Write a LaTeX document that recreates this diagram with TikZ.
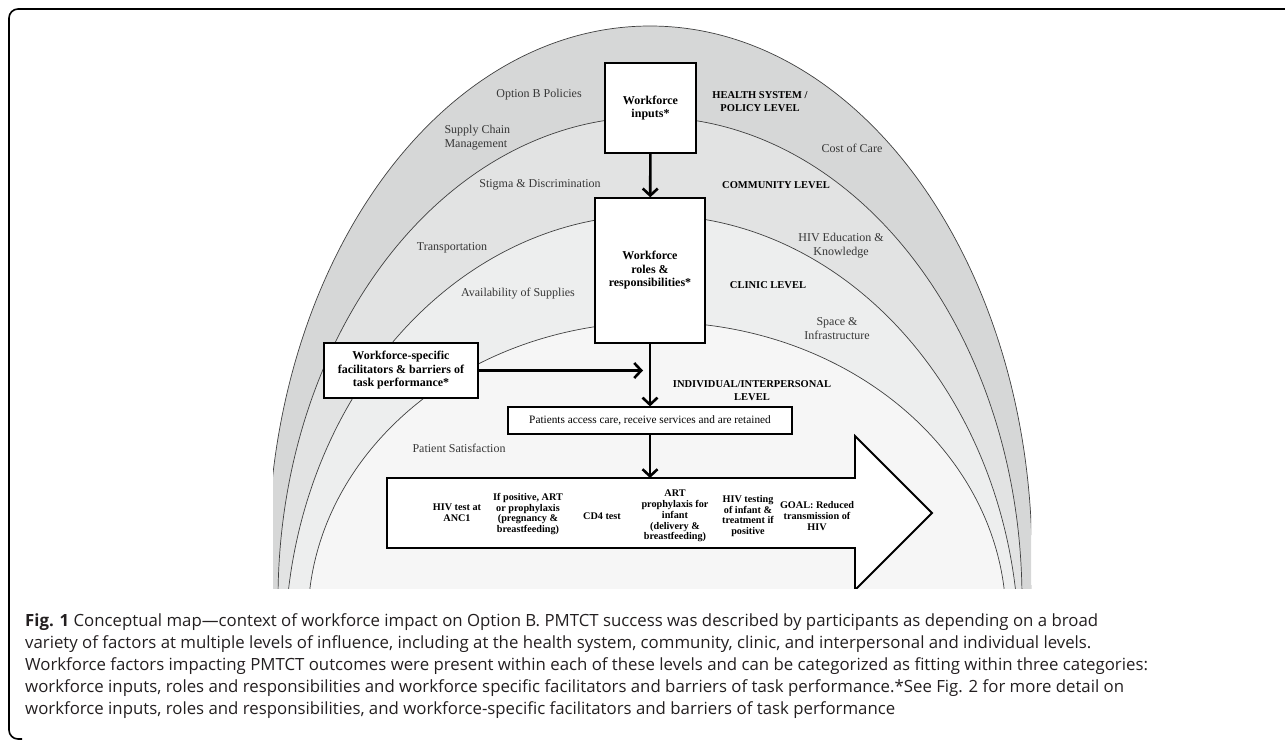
\documentclass[tikz,border=0pt]{standalone}
\usepackage{fontspec}
\setmainfont{Liberation Serif}
\newfontfamily\capfont{Open Sans}
\usetikzlibrary{arrows.meta}
\definecolor{policyband}{RGB}{214,215,215}
\definecolor{communityband}{RGB}{226,227,227}
\definecolor{clinicband}{RGB}{237,238,238}
\definecolor{personband}{RGB}{246,246,246}
\definecolor{labelgray}{RGB}{55,55,55}
\definecolor{capgray}{RGB}{35,31,32}

\begin{document}
\begin{tikzpicture}[x=1pt, y=-1pt,
    >={Straight Barb[length=7pt,width=15pt]},
    wbox/.style={draw=black, fill=white, line width=1.4pt, align=center, font=\bfseries\fontsize{12}{13.5}\selectfont},
    factor/.style={text=labelgray, align=center, font=\fontsize{12}{14}\selectfont},
    level/.style={align=center, font=\bfseries\fontsize{10.5}{13}\selectfont},
    stepnote/.style={align=center, inner sep=1pt, font=\bfseries\fontsize{10.2}{10.8}\selectfont},
    flow/.style={->, line width=2.6pt},
    ring/.style={draw=black!75, line width=0.7pt},
    capline/.style={anchor=base west, inner sep=0pt, text=capgray, font=\capfont\fontsize{16.8}{22}\selectfont}]
    \useasboundingbox (0,0) rectangle (1285,739);

    % frame of the figure
    \draw[line width=1.6pt, rounded corners=9pt] (1300,9) -- (9,9) -- (9,739) -- (22,739);

    % levels of influence
    \begin{scope}
        \clip (273,0) rectangle (1031,588);
        \path[ring, fill=policyband] (650,560) ellipse [x radius=382pt, y radius=534pt];
        \path[ring, fill=communityband] (650,600) ellipse [x radius=372pt, y radius=483pt];
        \path[ring, fill=clinicband] (652,650) ellipse [x radius=367pt, y radius=435pt];
        \path[ring, fill=personband] (657,620) ellipse [x radius=349pt, y radius=298pt];

        % care pathway
        \draw[line width=1.8pt, fill=white] (387,478) -- (855,478) -- (855,436) -- (932,513)
            -- (855,590) -- (855,548) -- (387,548) -- cycle;
    \end{scope}
    \coordinate (pathtop) at (650,478);

    \node[factor] (optionb) at (539,95) {Option B Policies};
    \node[factor, align=left, anchor=west] (supply) at (441,138) {Supply Chain\\Management};
    \node[factor] (stigma) at (540,185) {Stigma \& Discrimination};
    \node[factor] (cost) at (852,148) {Cost of Care};
    \node[factor] (transport) at (452,248) {Transportation};
    \node[factor] (supplies) at (518,294) {Availability of Supplies};
    \node[factor] (education) at (841,246) {HIV Education \&\\Knowledge};
    \node[factor] (space) at (837,328.5) {Space \&\\Infrastructure};
    \node[factor] (satisfaction) at (459,448) {Patient Satisfaction};

    \node[level] (policy) at (760,101.5) {HEALTH SYSTEM /\\POLICY LEVEL};
    \node[level] (community) at (776,185) {COMMUNITY LEVEL};
    \node[level] (clinic) at (768,285) {CLINIC LEVEL};
    \node[level] (individual) at (752,391) {INDIVIDUAL/INTERPERSONAL\\LEVEL};

    \node[wbox, minimum width=91pt, minimum height=90pt] (inputs) at (650.5,108) {Workforce\\inputs*};
    \node[wbox, minimum width=110pt, minimum height=145pt] (roles) at (650,270.5) {Workforce\\roles \&\\responsibilities*};
    \node[wbox, minimum width=154pt, minimum height=55pt] (barriers) at (401,370.5) {Workforce-specific\\facilitators \& barriers of\\task performance*};
    \node[draw, fill=white, line width=1.2pt, minimum width=284pt, minimum height=27pt,
        font=\fontsize{11.3}{12}\selectfont] (patients) at (650,420.5) {Patients access care, receive services and are retained};
    \coordinate (meet) at (643,370.5);

    \draw[flow] (inputs) -- (roles);
    \draw[flow] (roles) -- (patients);
    \draw[flow] (barriers) -- (meet);
    \draw[flow] (patients) -- (pathtop);

    \node[stepnote] (anc) at (457,513) {HIV test at\\ANC1};
    \node[stepnote] (art) at (528,514) {If positive, ART\\or prophylaxis\\(pregnancy \&\\breastfeeding)};
    \node[stepnote] (cdfour) at (602,516) {CD4 test};
    \node[stepnote] (infant) at (675,516) {ART\\prophylaxis for\\infant\\(delivery \&\\breastfeeding)};
    \node[stepnote] (testing) at (748,516) {HIV testing\\of infant \&\\treatment if\\positive};
    \node[stepnote] (goal) at (817,516) {GOAL: Reduced\\transmission of\\HIV};

    % caption
    \node[capline] (capa) at (25,626) {\textbf{Fig. 1} Conceptual map—context of workforce impact on Option B. PMTCT success was described by participants as depending on a broad};
    \node[capline] (capb) at (25,648) {variety of factors at multiple levels of influence, including at the health system, community, clinic, and interpersonal and individual levels.};
    \node[capline] (capc) at (25,670) {Workforce factors impacting PMTCT outcomes were present within each of these levels and can be categorized as fitting within three categories:};
    \node[capline] (capd) at (25,692) {workforce inputs, roles and responsibilities and workforce specific facilitators and barriers of task performance.*See Fig. 2 for more detail on};
    \node[capline] (cape) at (25,714) {workforce inputs, roles and responsibilities, and workforce-specific facilitators and barriers of task performance};
\end{tikzpicture}
\end{document}
